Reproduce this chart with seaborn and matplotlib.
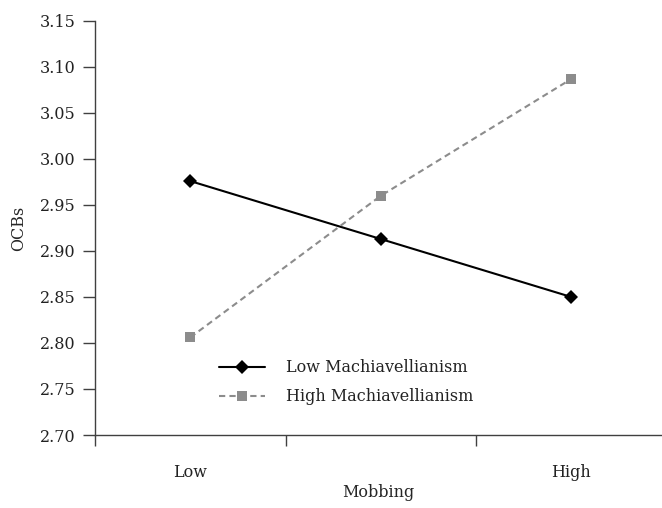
import numpy as np
import pandas as pd
import matplotlib
matplotlib.use('Agg')
import matplotlib.pyplot as plt
import seaborn as sns

# 데이터
mobbing = ['Low', 'Mean', 'High']
tick_labels = ['Low', '', 'High']
low_mach = [2.976, 2.913, 2.850]
high_mach = [2.806, 2.960, 3.087]
groups = ['Low Machiavellianism', 'High Machiavellianism']
y_ticks = [2.70, 2.75, 2.80, 2.85, 2.90, 2.95, 3.00, 3.05, 3.10, 3.15]

df = pd.DataFrame({
    'pos': list(range(3)) * 2,
    'OCBs': low_mach + high_mach,
    'group': [groups[0]] * 3 + [groups[1]] * 3,
})

sns.set_style('white')
plt.rcParams['font.family'] = ['DejaVu Serif']
plt.rcParams['text.color'] = '#222222'
plt.rcParams['xtick.color'] = '#222222'
plt.rcParams['ytick.color'] = '#222222'

fig = plt.figure(figsize=(6.62, 5.08), dpi=100)
ax = fig.add_axes([0.1435, 0.1437, 0.8565, 0.815])

sns.lineplot(data=df, x='pos', y='OCBs', hue='group', style='group',
             palette={groups[0]: 'black', groups[1]: '#8c8c8c'},
             markers={groups[0]: 'D', groups[1]: 's'},
             dashes={groups[0]: '', groups[1]: (3, 2)},
             markersize=7, linewidth=1.5, markeredgewidth=0, ax=ax)

ax.set_xlim(-0.5, 2.476)
ax.set_ylim(2.70, 3.15)
ax.set_yticks(y_ticks)
ax.set_yticklabels([f'{v:.2f}' for v in y_ticks])
ax.set_xticks(range(3))
ax.set_xticklabels(tick_labels)
ax.set_xticks([-0.5, 0.5, 1.5], minor=True)
ax.tick_params(axis='x', which='major', length=0, pad=21, labelsize=11.5)
ax.tick_params(axis='x', which='minor', bottom=True, length=8, width=1,
               color='#404040', direction='out')
ax.tick_params(axis='y', left=True, length=9, width=1, color='#404040',
               direction='out', labelsize=11.5, pad=5)

for s in ['top', 'right']:
    ax.spines[s].set_visible(False)
for s in ['left', 'bottom']:
    ax.spines[s].set_color('#404040')
    ax.spines[s].set_linewidth(1)

ax.set_xlabel('Mobbing', fontsize=11.5, labelpad=2)
ax.set_ylabel('OCBs', fontsize=11.5, labelpad=9)

ax.legend(title=None, frameon=False, fontsize=11.5, loc='center left',
          bbox_to_anchor=(0.219, 0.127), borderpad=0, borderaxespad=0,
          handlelength=2.9, labelspacing=0.75, handletextpad=1.3)

fig.savefig('out.png', dpi=100)
